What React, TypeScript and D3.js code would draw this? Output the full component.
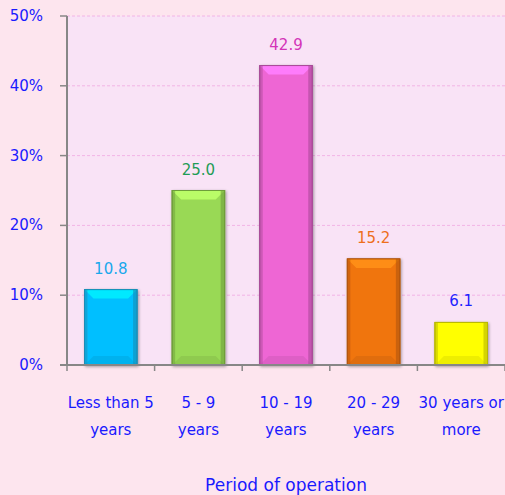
import React from 'react';
import * as d3 from 'd3';

// chart data
const categories = ['Less than 5|years', '5 - 9|years', '10 - 19|years', '20 - 29|years', '30 years or|more'];
const values = [10.8, 25.0, 42.9, 15.2, 6.1];
const barColors = ['#00bfff', '#99d955', '#ee66d4', '#f07410', '#ffff00'];
const edgeColors = ['#1b8db5', '#6e9e3a', '#a94a98', '#b3560c', '#b8b800'];
const labelColors = ['#1aa8ec', '#1f9c55', '#d335b8', '#ee6f1c', '#2222ff'];
const yTicks = [0, 10, 20, 30, 40, 50];
const axisTitle = 'Period of operation';

const W = 505;
const H = 495;
const margin = { top: 16, right: 0, bottom: 130, left: 67 };

export default function App() {
  const x = d3
    .scaleBand()
    .domain(categories)
    .range([margin.left, W - margin.right])
    .paddingInner(0.4)
    .paddingOuter(0.2);
  const y = d3
    .scaleLinear()
    .domain([0, 50])
    .range([H - margin.bottom, margin.top]);

  const step = x.step();
  const bw = x.bandwidth();
  const base = y(0);
  const font = "'DejaVu Sans', sans-serif";
  const bev = 9;

  return (
    <svg width={W} height={H} style={{ position: 'absolute', left: 0, top: 0 }} fontFamily={font}>
      <defs>
        <filter id="sh" x="-20%" y="-20%" width="140%" height="140%">
          <feGaussianBlur in="SourceAlpha" stdDeviation="1.5" />
          <feOffset dx="1" dy="1" result="b" />
          <feComponentTransfer><feFuncA type="linear" slope="0.35" /></feComponentTransfer>
          <feMerge><feMergeNode /><feMergeNode in="SourceGraphic" /></feMerge>
        </filter>
      </defs>
      <rect x={0} y={0} width={W} height={H} fill="#fde5ee" />
      <rect x={margin.left} y={margin.top} width={W - margin.left - margin.right} height={base - margin.top} fill="#f9e3f6" />

      {/* grid */}
      {yTicks.filter((t) => t > 0).map((t) => (
        <line key={t} x1={margin.left} x2={W} y1={y(t)} y2={y(t)} stroke="#f2b4e6" strokeWidth={1} strokeDasharray="3,2" />
      ))}

      {/* bars */}
      {values.map((v, i) => {
        const bx = x(categories[i])!;
        const by = y(v);
        const bh = base - by;
        const c = d3.color(barColors[i])!;
        return (
          <g key={i} filter="url(#sh)">
            <rect x={bx} y={by} width={bw} height={bh} fill={barColors[i]} stroke={edgeColors[i]} strokeWidth={1} />
            <polygon
              points={`${bx},${by} ${bx + bw},${by} ${bx + bw - bev},${by + bev} ${bx + bev},${by + bev}`}
              fill={c.brighter(0.6).toString()}
              opacity={0.9}
            />
            <polygon
              points={`${bx},${base} ${bx + bw},${base} ${bx + bw - bev},${base - bev} ${bx + bev},${base - bev}`}
              fill={c.darker(0.4).toString()}
              opacity={0.5}
            />
            <rect x={bx} y={by} width={3} height={bh} fill={edgeColors[i]} opacity={0.5} />
            <rect x={bx + bw - 4} y={by} width={4} height={bh} fill={edgeColors[i]} opacity={0.6} />
            <rect x={bx} y={by} width={bw} height={bh} fill="none" stroke={edgeColors[i]} strokeWidth={1} />
          </g>
        );
      })}

      {/* value labels */}
      {values.map((v, i) => (
        <text key={i} x={x(categories[i])! + bw / 2} y={y(v) - 16} textAnchor="middle" fontSize={15} fill={labelColors[i]}>
          {v.toFixed(1)}
        </text>
      ))}

      {/* y axis */}
      <line x1={margin.left} x2={margin.left} y1={margin.top} y2={base + 1} stroke="#878787" strokeWidth={2} />
      {yTicks.map((t) => (
        <g key={t}>
          <line x1={margin.left - 7} x2={margin.left} y1={y(t)} y2={y(t)} stroke="#878787" strokeWidth={1.5} />
          <text x={43} y={y(t) + 5} textAnchor="end" fontSize={15} fill="#1a1aff">{t}%</text>
        </g>
      ))}

      {/* x axis */}
      <line x1={margin.left - 7} x2={W} y1={base} y2={base} stroke="#878787" strokeWidth={2} />
      {d3.range(categories.length + 1).map((i) => (
        <line key={i} x1={margin.left + i * step} x2={margin.left + i * step} y1={base} y2={base + 6} stroke="#878787" strokeWidth={1.5} />
      ))}
      {categories.map((c) => {
        const cx = x(c)! + bw / 2;
        const parts = c.split('|');
        return (
          <text key={c} x={cx} textAnchor="middle" fontSize={15} fill="#1a1aff">
            <tspan x={cx} y={408}>{parts[0]}</tspan>
            <tspan x={cx} y={435}>{parts[1]}</tspan>
          </text>
        );
      })}
      <text x={(margin.left + W) / 2} y={491} textAnchor="middle" fontSize={17} fill="#1a1aff">{axisTitle}</text>
    </svg>
  );
}
